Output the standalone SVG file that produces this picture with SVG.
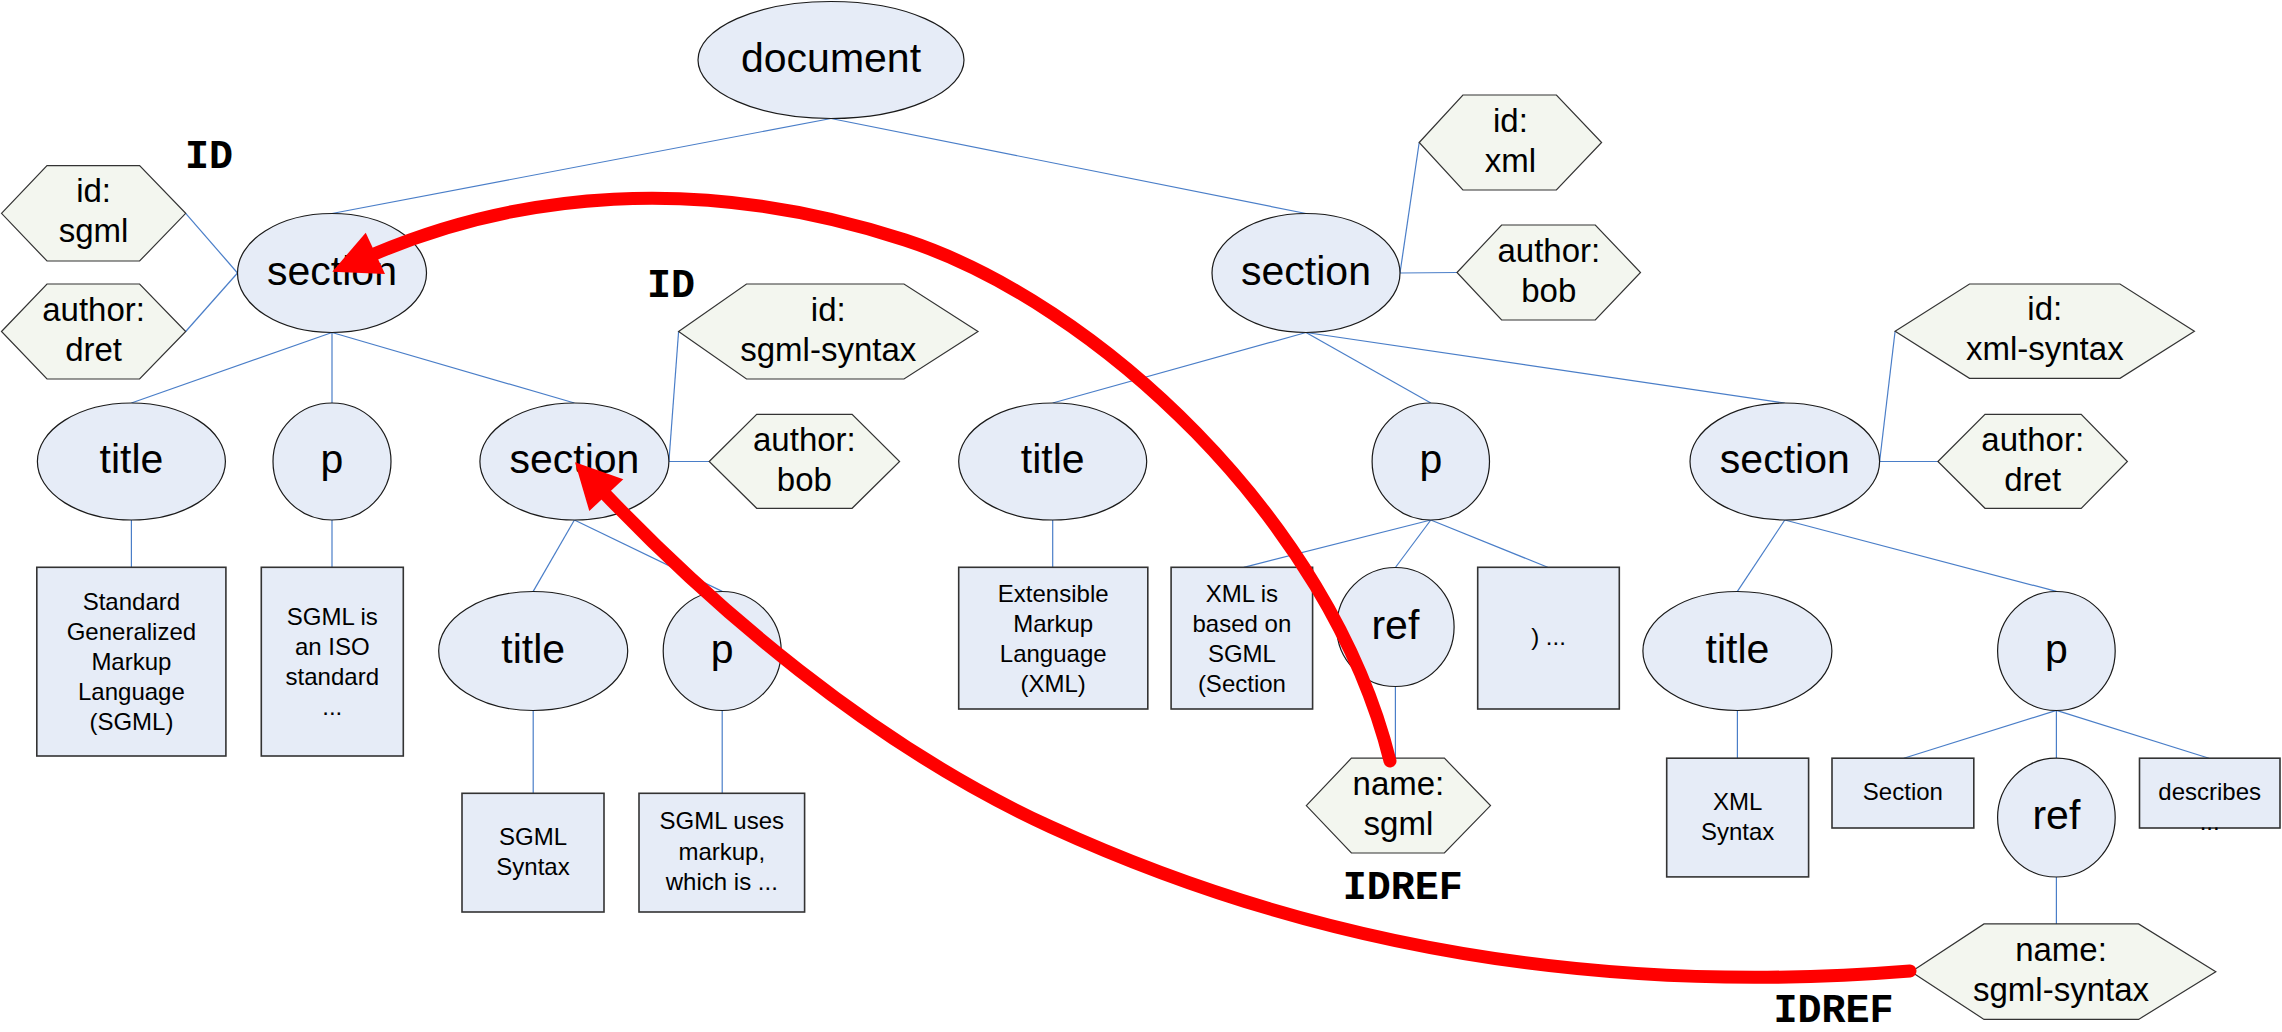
<svg xmlns="http://www.w3.org/2000/svg" width="2282" height="1032" viewBox="0 0 2282 1032">
<style>
.ell{fill:#E6ECF7;stroke:#1a1a1a;stroke-width:1.2}
.hex{fill:#F3F6EF;stroke:#333;stroke-width:1.2}
.box{fill:#E6ECF7;stroke:#333;stroke-width:1.6}
#connectors line{stroke:#4A7EC8;stroke-width:1.2}
text{font-family:"Liberation Sans",Arial,sans-serif;text-anchor:middle;fill:#000}
.el{font-size:41px}
.hx{font-size:33px}
.bx{font-size:24px}
.lab{font-family:"Liberation Mono","Courier New",monospace;font-weight:bold;font-size:40px}
.ref{fill:none;stroke:#FF0000;stroke-width:13;stroke-linecap:round}
.head{fill:#FF0000}
</style>
<rect width="2282" height="1032" fill="#fff"/>
<g id="connectors">
<line x1="831" y1="118.5" x2="332" y2="213.5"/>
<line x1="831" y1="118.5" x2="1306" y2="213.5"/>
<line x1="237.5" y1="273" x2="185.7" y2="213.3"/>
<line x1="237.5" y1="273" x2="185.7" y2="331.5"/>
<line x1="332" y1="332.5" x2="131.4" y2="403"/>
<line x1="332" y1="332.5" x2="332" y2="403"/>
<line x1="332" y1="332.5" x2="574.4" y2="403"/>
<line x1="668.9" y1="461.5" x2="678.6" y2="331.5"/>
<line x1="668.9" y1="461.5" x2="709.2" y2="461.5"/>
<line x1="131.4" y1="520" x2="131.4" y2="567.3"/>
<line x1="332" y1="520" x2="332" y2="567.3"/>
<line x1="574.4" y1="520" x2="533.2" y2="591.4"/>
<line x1="574.4" y1="520" x2="722.2" y2="591.4"/>
<line x1="533.2" y1="710.4" x2="533.2" y2="793.3"/>
<line x1="722.2" y1="710.4" x2="722.2" y2="793.3"/>
<line x1="1400" y1="273" x2="1419.2" y2="142.5"/>
<line x1="1400" y1="273" x2="1457" y2="272.5"/>
<line x1="1306" y1="332.5" x2="1052.7" y2="403"/>
<line x1="1306" y1="332.5" x2="1430.8" y2="403"/>
<line x1="1306" y1="332.5" x2="1784.8" y2="403"/>
<line x1="1052.7" y1="520" x2="1052.7" y2="567.3"/>
<line x1="1430.8" y1="520" x2="1243.8" y2="567.3"/>
<line x1="1430.8" y1="520" x2="1395.4" y2="567.5"/>
<line x1="1430.8" y1="520" x2="1547.7" y2="567.3"/>
<line x1="1395.4" y1="686.6" x2="1395.4" y2="758.2"/>
<line x1="1879.6" y1="461.5" x2="1895.1" y2="331.3"/>
<line x1="1879.6" y1="461.5" x2="1937.9" y2="461.5"/>
<line x1="1784.8" y1="520" x2="1737.4" y2="591.4"/>
<line x1="1784.8" y1="520" x2="2056.4" y2="591.4"/>
<line x1="1737.4" y1="710.4" x2="1737.4" y2="758.2"/>
<line x1="2056.4" y1="710.4" x2="1903.8" y2="758.2"/>
<line x1="2056.4" y1="710.4" x2="2056.4" y2="758.2"/>
<line x1="2056.4" y1="710.4" x2="2209" y2="758.2"/>
<line x1="2056.4" y1="877" x2="2056.4" y2="923.9"/>
</g>
<g id="document"><ellipse class="ell" cx="831" cy="60" rx="133" ry="58.5"/><text class="el" x="831" y="72">document</text></g>
<g id="section-sgml"><ellipse class="ell" cx="332" cy="273" rx="94.5" ry="59.5"/><text class="el" x="332" y="285">section</text></g>
<g id="attr-id-sgml"><polygon class="hex" points="1.5,213.3 47,165.7 139.6,165.7 185.7,213.3 139.6,261 47,261"/><text class="hx" x="93.6" y="202.3">id:</text><text class="hx" x="93.6" y="242.3">sgml</text></g>
<g id="attr-author-dret-1"><polygon class="hex" points="1.5,331.5 47,284 139.6,284 185.7,331.5 139.6,379 47,379"/><text class="hx" x="93.6" y="320.5">author:</text><text class="hx" x="93.6" y="360.5">dret</text></g>
<g id="title-sgml"><ellipse class="ell" cx="131.4" cy="461.5" rx="94" ry="58.5"/><text class="el" x="131.4" y="473">title</text></g>
<g id="p-sgml"><ellipse class="ell" cx="332" cy="461.5" rx="59" ry="58.5"/><text class="el" x="332" y="473">p</text></g>
<g id="section-sgml-syntax"><ellipse class="ell" cx="574.4" cy="461.5" rx="94.5" ry="58.5"/><text class="el" x="574.4" y="473">section</text></g>
<g id="attr-id-sgml-syntax"><polygon class="hex" points="678.6,331.5 746.5,284 904,284 978,331.5 904,379 746.5,379"/><text class="hx" x="828.3" y="320.5">id:</text><text class="hx" x="828.3" y="360.5">sgml-syntax</text></g>
<g id="attr-author-bob-1"><polygon class="hex" points="709.2,461.5 756.7,414.3 852.1,414.3 899.6,461.5 852.1,508.3 756.7,508.3"/><text class="hx" x="804.4" y="450.5">author:</text><text class="hx" x="804.4" y="490.5">bob</text></g>
<g id="text-sgml-title"><rect class="box" x="36.8" y="567.3" width="189.1" height="188.7"/><text class="bx" x="131.4" y="610">Standard</text><text class="bx" x="131.4" y="640">Generalized</text><text class="bx" x="131.4" y="670">Markup</text><text class="bx" x="131.4" y="700">Language</text><text class="bx" x="131.4" y="730">(SGML)</text></g>
<g id="text-sgml-p"><rect class="box" x="261.3" y="567.3" width="142" height="188.7"/><text class="bx" x="332.3" y="625">SGML is</text><text class="bx" x="332.3" y="655">an ISO</text><text class="bx" x="332.3" y="685">standard</text><text class="bx" x="332.3" y="715">...</text></g>
<g id="title-sgml-syntax"><ellipse class="ell" cx="533.2" cy="651" rx="94.5" ry="59.5"/><text class="el" x="533.2" y="662.5">title</text></g>
<g id="p-sgml-syntax"><ellipse class="ell" cx="722.2" cy="651" rx="59" ry="59.5"/><text class="el" x="722.2" y="662.5">p</text></g>
<g id="text-sgml-syntax-title"><rect class="box" x="462" y="793.3" width="142" height="118.7"/><text class="bx" x="533" y="845">SGML</text><text class="bx" x="533" y="875">Syntax</text></g>
<g id="text-sgml-syntax-p"><rect class="box" x="639" y="793.3" width="165.6" height="118.7"/><text class="bx" x="721.8" y="829">SGML uses</text><text class="bx" x="721.8" y="860">markup,</text><text class="bx" x="721.8" y="890">which is ...</text></g>
<g id="section-xml"><ellipse class="ell" cx="1306" cy="273" rx="94" ry="59.5"/><text class="el" x="1306" y="285">section</text></g>
<g id="attr-id-xml"><polygon class="hex" points="1419.2,142.5 1462.9,95 1556.4,95 1601.6,142.5 1556.4,190 1462.9,190"/><text class="hx" x="1510.4" y="131.5">id:</text><text class="hx" x="1510.4" y="171.5">xml</text></g>
<g id="attr-author-bob-2"><polygon class="hex" points="1457,272.5 1501.6,225 1595.3,225 1640.5,272.5 1595.3,320 1501.6,320"/><text class="hx" x="1548.8" y="261.5">author:</text><text class="hx" x="1548.8" y="301.5">bob</text></g>
<g id="title-xml"><ellipse class="ell" cx="1052.7" cy="461.5" rx="94" ry="58.5"/><text class="el" x="1052.7" y="473">title</text></g>
<g id="p-xml"><ellipse class="ell" cx="1430.8" cy="461.5" rx="58.7" ry="58.5"/><text class="el" x="1430.8" y="473">p</text></g>
<g id="section-xml-syntax"><ellipse class="ell" cx="1784.8" cy="461.5" rx="94.8" ry="58.5"/><text class="el" x="1784.8" y="473">section</text></g>
<g id="attr-id-xml-syntax"><polygon class="hex" points="1895.1,331.3 1969.5,284 2120,284 2194.4,331.3 2120,378.3 1969.5,378.3"/><text class="hx" x="2044.8" y="320.3">id:</text><text class="hx" x="2044.8" y="360.3">xml-syntax</text></g>
<g id="attr-author-dret-2"><polygon class="hex" points="1937.9,461.5 1985,414.3 2081.2,414.3 2127.4,461.5 2081.2,508.3 1985,508.3"/><text class="hx" x="2032.7" y="450.5">author:</text><text class="hx" x="2032.7" y="490.5">dret</text></g>
<g id="text-xml-title"><rect class="box" x="958.7" y="567.3" width="189.1" height="141.7"/><text class="bx" x="1053.2" y="602">Extensible</text><text class="bx" x="1053.2" y="632">Markup</text><text class="bx" x="1053.2" y="662">Language</text><text class="bx" x="1053.2" y="692">(XML)</text></g>
<g id="text-xml-p-1"><rect class="box" x="1171.1" y="567.3" width="141.5" height="141.7"/><text class="bx" x="1241.9" y="602">XML is</text><text class="bx" x="1241.9" y="632">based on</text><text class="bx" x="1241.9" y="662">SGML</text><text class="bx" x="1241.9" y="692">(Section</text></g>
<g id="ref-sgml"><ellipse class="ell" cx="1395.4" cy="627" rx="58.7" ry="59.5"/><text class="el" x="1395.4" y="638.5">ref</text></g>
<g id="text-xml-p-2"><rect class="box" x="1477.7" y="567.3" width="141.6" height="141.7"/><text class="bx" x="1548.5" y="645">) ...</text></g>
<g id="attr-name-sgml"><polygon class="hex" points="1306.3,805.6 1351.4,758.2 1444.4,758.2 1490.5,805.6 1444.4,853 1351.4,853"/><text class="hx" x="1398.4" y="794.6">name:</text><text class="hx" x="1398.4" y="834.6">sgml</text></g>
<g id="title-xml-syntax"><ellipse class="ell" cx="1737.4" cy="651" rx="94.5" ry="59.5"/><text class="el" x="1737.4" y="662.5">title</text></g>
<g id="p-xml-syntax"><ellipse class="ell" cx="2056.4" cy="651" rx="58.8" ry="59.5"/><text class="el" x="2056.4" y="662.5">p</text></g>
<g id="text-xml-syntax-title"><rect class="box" x="1666.7" y="758.2" width="141.9" height="118.7"/><text class="bx" x="1737.6" y="810">XML</text><text class="bx" x="1737.6" y="840">Syntax</text></g>
<g id="text-xml-syntax-p-1"><rect class="box" x="1832" y="758.2" width="141.8" height="69.8"/><text class="bx" x="1902.9" y="800">Section</text></g>
<g id="ref-sgml-syntax"><ellipse class="ell" cx="2056.4" cy="817.6" rx="58.8" ry="59.4"/><text class="el" x="2056.4" y="829">ref</text></g>
<g id="text-xml-syntax-p-2"><rect class="box" x="2139.5" y="758.2" width="140.5" height="69.8"/><text class="bx" x="2209.7" y="800">describes</text><text class="bx" x="2209.7" y="830">...</text></g>
<g id="attr-name-sgml-syntax"><polygon class="hex" points="1911.2,971.7 1984,923.9 2138.6,923.9 2215.8,971.7 2138.6,1019.4 1984,1019.4"/><text class="hx" x="2061" y="960.7">name:</text><text class="hx" x="2061" y="1000.7">sgml-syntax</text></g>
<g id="labels">
<text class="lab" x="208.9" y="168.3">ID</text>
<text class="lab" x="671" y="296.7">ID</text>
<text class="lab" x="1402.7" y="899">IDREF</text>
<text class="lab" x="1833.4" y="1021.8">IDREF</text>
</g>
<g id="idref-arrows">
<path class="ref" d="M1390,761 C1330,518.5 1095,302 905,240 C696,171.8 513.5,195 375.5,253.5"/>
<polygon class="head" points="332.3,271.7 365.7,232.7 385,274"/>
<path class="ref" d="M1910,971 C1610,995 1323.7,951.8 1051,827 C869.2,743.8 709.5,603 606.3,495.2"/>
<polygon class="head" points="575,462.3 623.3,479.3 589.3,511"/>
</g>
</svg>
